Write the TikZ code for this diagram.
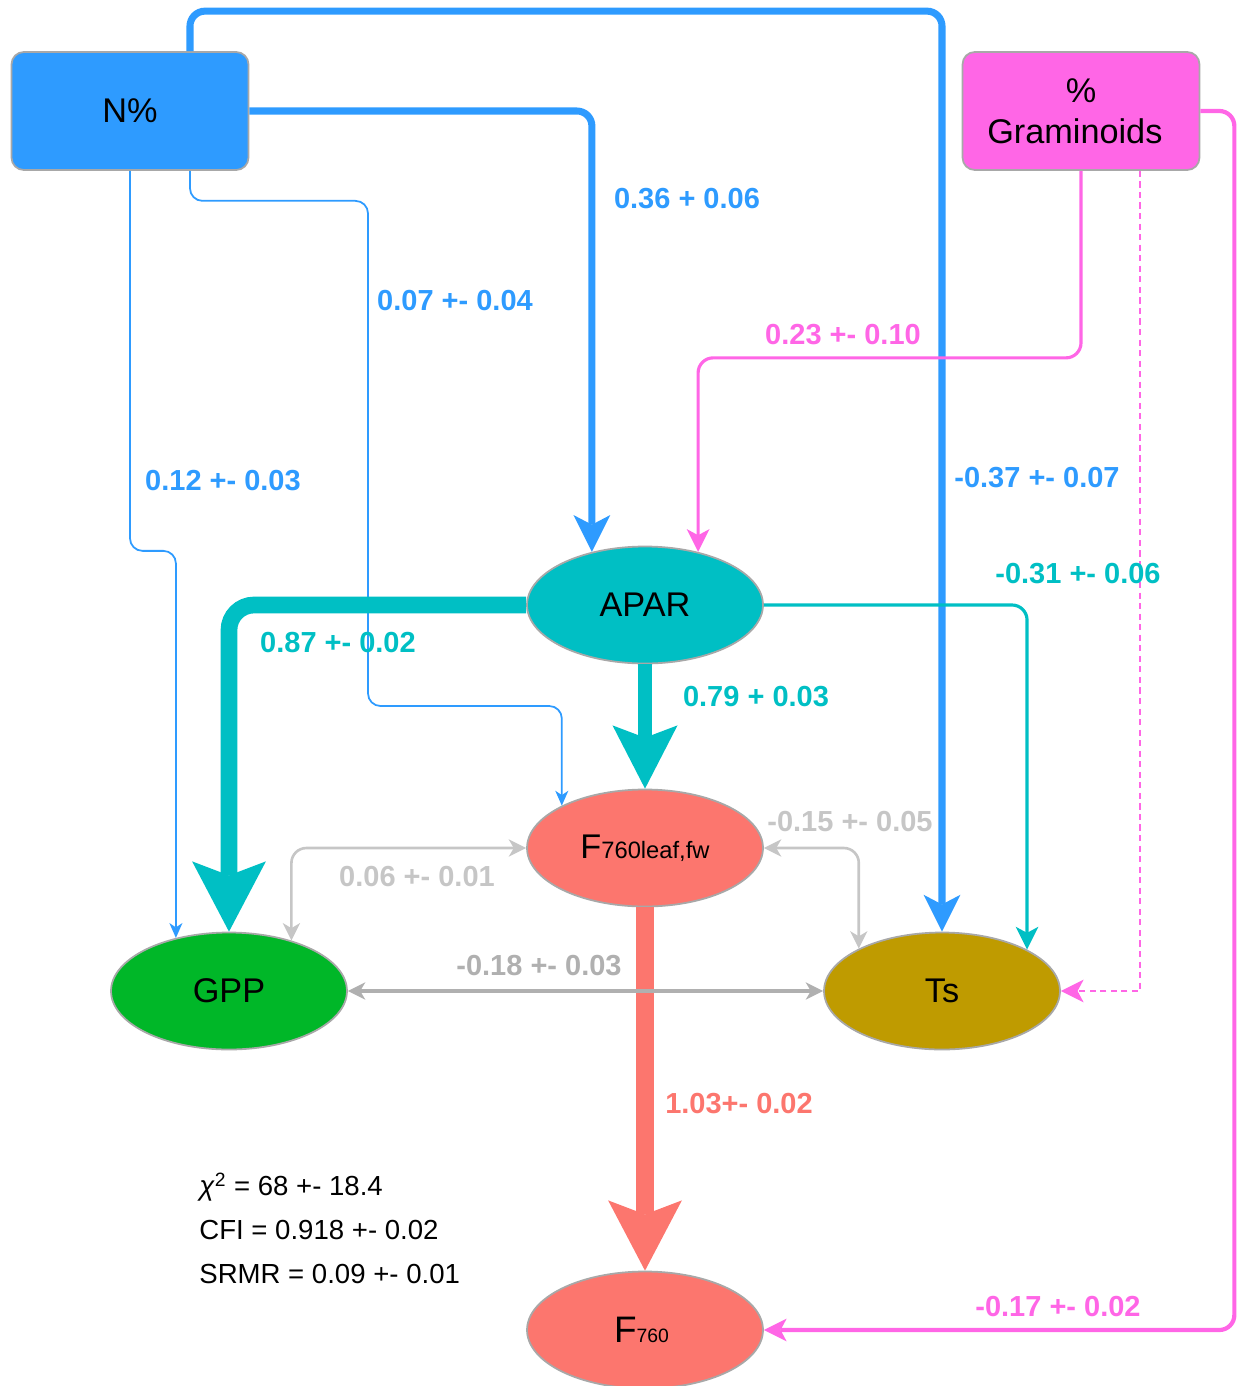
\documentclass[tikz,border=0pt]{standalone}
\usepackage{fontspec}
\setmainfont{Liberation Sans}
\usetikzlibrary{arrows.meta, shapes.geometric}

\definecolor{nblue}{HTML}{2E9BFF}
\definecolor{gpink}{HTML}{FF66E6}
\definecolor{apteal}{HTML}{00BFC4}
\definecolor{fsalmon}{HTML}{FC766E}
\definecolor{ggreen}{HTML}{00B728}
\definecolor{tsolive}{HTML}{BF9B00}
\definecolor{lgray}{HTML}{C6C6C6}
\definecolor{mgray}{HTML}{B0B0B0}
\definecolor{edgegray}{HTML}{A8A8A8}

\tikzset{
    box/.style={draw=edgegray, line width=1pt, rounded corners=7pt,
        minimum width=4.74cm, minimum height=2.36cm, inner sep=0pt,
        align=center, font=\fontsize{19.5}{23.5}\selectfont},
    var/.style={ellipse, draw=edgegray, line width=1pt,
        minimum width=4.72cm, minimum height=2.34cm, inner sep=0pt,
        font=\fontsize{19.5}{23.5}\selectfont},
    coef/.style={inner sep=0pt, font=\bfseries\fontsize{16.5}{20}\selectfont},
    tipxl/.tip={Stealth[length=40pt, width=42pt, inset=8pt, line width=0pt]},
    tiplg/.tip={Stealth[length=36pt, width=37pt, inset=7pt, line width=0pt]},
    tipmd/.tip={Stealth[length=21pt, width=21pt, inset=5.5pt, line width=0pt]},
    tipsm/.tip={Stealth[length=13pt, width=13pt, inset=3.5pt, line width=0pt]},
    tipgr/.tip={Stealth[length=10pt, width=10pt, inset=3pt, line width=0pt]},
    tipxs/.tip={Stealth[length=8.5pt, width=7.5pt, inset=2.5pt, line width=0pt]},
}

\begin{document}
\begin{tikzpicture}[x=0.02cm, y=-0.02cm]
    \useasboundingbox (0,0) rectangle (1237,1386);

    % Variablen
    \node[box, fill=nblue] (npct) at (130,111) {N\%};
    \node[box, fill=gpink] (gram) at (1081,111) {\%\\Graminoids\hspace*{7pt}};
    \node[var, fill=apteal] (apar) at (645,605) {APAR};
    \node[var, fill=fsalmon] (flf) at (645,848)
        {F{\fontsize{13.5}{16}\selectfont 760leaf,fw}};
    \node[var, fill=ggreen] (gpp) at (229,991) {GPP};
    \node[var, fill=tsolive] (ts) at (942,991) {Ts};
    \node[var, fill=fsalmon, font=\fontsize{21}{25}\selectfont] (f760) at (645,1330)
        {F{\fontsize{11}{13}\selectfont 760}\hspace*{4pt}};

    % Pfade von N%
    \draw[nblue, line width=4pt, -tipmd, rounded corners=0.3cm]
        ([xshift=1.2cm]npct.north) -- ++(0,-40) -| (ts.north);
    \draw[nblue, line width=4pt, -tipmd, rounded corners=0.3cm]
        (npct.east) -| (apar.135);
    \draw[nblue, line width=1pt, -tipxs, rounded corners=0.25cm]
        ([xshift=1.2cm]npct.south) -- ++(0,30) -| (368,706) -| (flf.153.6);
    \draw[nblue, line width=1pt, -tipxs, rounded corners=0.25cm]
        (npct.south) -- ++(0,380) -| (gpp.135);

    % Pfade von % Graminoids
    \draw[gpink, line width=1.8pt, -tipsm, rounded corners=0.3cm]
        (gram.south) -- ++(0,187) -| (apar.45);
    \draw[gpink, line width=0.9pt, dash pattern=on 3.5pt off 2.5pt, -tipsm]
        ([xshift=1.18cm]gram.south) |- (ts.east);
    \draw[gpink, line width=2.4pt, -tipsm, rounded corners=0.3cm]
        (gram.east) -- ++(34,0) |- (f760.east);

    % Pfade von APAR
    \draw[apteal, line width=9.5pt, -tipxl, rounded corners=0.5cm]
        (apar.west) -| (gpp.north);
    \draw[apteal, line width=8pt, -tiplg] (apar.south) -- (flf.north);
    \draw[apteal, line width=1.8pt, -tipsm, rounded corners=0.3cm]
        (apar.east) -| (ts.26.4);

    % F760leaf -> F760
    \draw[fsalmon, line width=10.5pt, -tipxl] (flf.south) -- (f760.north);

    % Kovarianzen
    \draw[lgray, line width=1.5pt, tipgr-tipgr, rounded corners=0.3cm]
        (flf.west) -| (gpp.39.8);
    \draw[lgray, line width=1.5pt, tipgr-tipgr, rounded corners=0.3cm]
        (flf.east) -| (ts.153.6);
    \draw[mgray, line width=1.8pt, tipgr-tipgr] (gpp.east) -- (ts.west);

    % Koeffizienten
    \node[coef, text=nblue] (lNA) at (687,199) {0.36 + 0.06};
    \node[coef, text=nblue] (lNF) at (455,301) {0.07 +- 0.04};
    \node[coef, text=nblue] (lNG) at (223,481) {0.12 +- 0.03};
    \node[coef, text=nblue] (lNT) at (1037,478) {-0.37 +- 0.07};
    \node[coef, text=gpink] (lGA) at (843,335) {0.23 +- 0.10};
    \node[coef, text=gpink] (lGF) at (1058,1307) {-0.17 +- 0.02};
    \node[coef, text=apteal] (lAT) at (1078,574) {-0.31 +- 0.06};
    \node[coef, text=apteal] (lAG) at (338,643) {0.87 +- 0.02};
    \node[coef, text=apteal] (lAF) at (756,697) {0.79 + 0.03};
    \node[coef, text=lgray] (lFT) at (850,822) {-0.15 +- 0.05};
    \node[coef, text=lgray] (lFG) at (417,877) {0.06 +- 0.01};
    \node[coef, text=mgray] (lGT) at (539,966) {-0.18 +- 0.03};
    \node[coef, text=fsalmon] (lFF) at (739,1104) {1.03+- 0.02};

    % Modellguete
    \node[anchor=west, align=left, inner sep=0pt,
        font=\fontsize{15.7}{25}\selectfont] (fit) at (199,1228)
        {\textit{χ}\textsuperscript{2} = 68 +- 18.4\\CFI = 0.918 +- 0.02\\SRMR = 0.09 +- 0.01};
\end{tikzpicture}
\end{document}
